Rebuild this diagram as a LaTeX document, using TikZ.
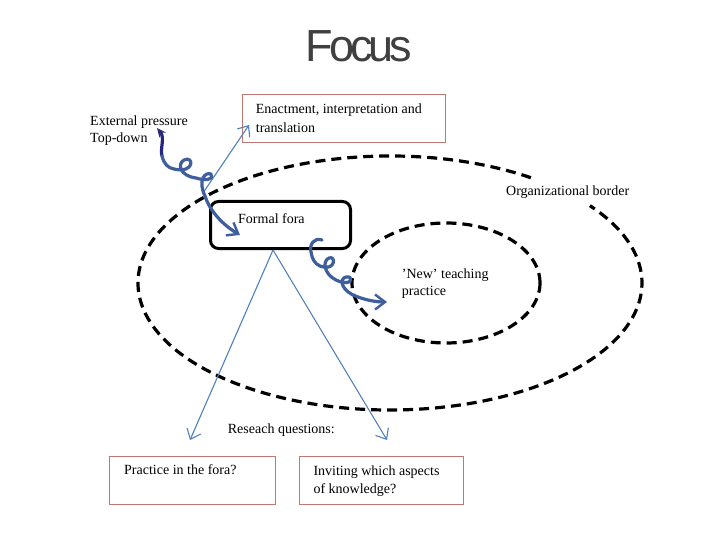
\documentclass[tikz,border=0pt]{standalone}
\usepackage{fontspec}
\setmainfont{Liberation Serif}
\newfontfamily\titlefont{Liberation Sans}
\usetikzlibrary{arrows.meta}
\definecolor{thinblue}{RGB}{79,129,189}
\definecolor{squig}{RGB}{62,94,158}
\definecolor{squigdark}{RGB}{38,40,128}
\definecolor{boxred}{RGB}{192,118,116}
\definecolor{titlegray}{RGB}{64,64,64}
\tikzset{
  txt/.style={font=\fontsize{14}{18}\selectfont, inner sep=0pt, anchor=base west},
  redbox/.style={draw=boxred, line width=1pt, minimum width=#1, minimum height=48pt, inner sep=0pt},
  forabox/.style={draw=black, line width=3pt, rounded corners=8pt, minimum width=140pt, minimum height=47pt, inner sep=0pt},
  border/.style={draw=black, line width=3.2pt, dash pattern=on 10pt off 6pt},
  thinarrow/.style={draw=thinblue, line width=1.1pt, -{Straight Barb[length=9pt,width=15pt,line width=1.1pt]}},
  squigline/.style={draw=squig, line width=3.2pt, line cap=round, line join=round},
  squigtip/.style={-{Straight Barb[length=10pt,width=15pt,line width=2.4pt]}},
}
\begin{document}
\begin{tikzpicture}[x=1pt,y=-1pt]
  \useasboundingbox[fill=white] (0,0) rectangle (720,540);

  % title
  \node[font=\titlefont\fontsize{45}{45}\selectfont, text=titlegray, inner sep=0pt, anchor=base] (title) at (359,62) {F\kern-4pt o\kern-4pt c\kern-4pt u\kern-4pt s};

  % ellipses
  \draw[border] ([shift={(390,283)}]56:252pt and 127pt) coordinate (orgstart)
        arc [start angle=56, end angle=397.5, x radius=252pt, y radius=127pt];
  \draw[border] (446,283) ellipse [x radius=94pt, y radius=60pt];

  % boxes
  \node[redbox=203pt] (enact) at (344,118.5) {};
  \node[forabox] (fora) at (280.5,225) {};
  \node[redbox=165.5pt] (pract) at (192.5,480.5) {};
  \node[redbox=164.3pt] (invit) at (381.7,480.5) {};

  % texts
  \node[txt] (ext1) at (90,126) {External pressure};
  \node[txt] (ext2) at (90,143) {Top-down};
  \node[txt] (en1) at (255.7,114) {Enactment, interpretation and};
  \node[txt] (en2) at (255.7,132.7) {translation};
  \node[txt] (foratxt) at (238,223) {Formal fora};
  \node[txt] (org) at (506,196) {Organizational border};
  \node[txt] (new1) at (401.7,278) {’New’ teaching};
  \node[txt] (new2) at (401.7,295) {practice};
  \node[txt] (rq) at (227.7,433) {Reseach questions:};
  \node[txt] (pr) at (124,474) {Practice in the fora?};
  \node[txt] (inv1) at (313.3,475) {Inviting which aspects};
  \node[txt] (inv2) at (313.3,493) {of knowledge?};

  % thin arrows
  \coordinate (fb) at ([xshift=-7.5pt]fora.south);
  \coordinate (q1tip) at (190,440);
  \coordinate (q2tip) at (387,440);
  \coordinate (enstart) at (203,193);
  \coordinate (entip) at (249,125);
  \draw[thinarrow] (fb) -- (q1tip);
  \draw[thinarrow] (fb) -- (q2tip);
  \draw[thinarrow] (enstart) -- (entip);

  % squiggle 1: external pressure -> formal fora
  \coordinate (s1top) at (157,128);
  \coordinate (s1mid) at (162,156);
  \coordinate (s1end) at (240,235);
  \draw[squigline, draw=squigdark, {Stealth[length=9pt,width=8pt]}-] (s1top) .. controls (165,138) and (160,148) .. (s1mid);
  \draw[squigline, squigtip] (s1mid) .. controls (164,164) and (168,168) .. (174,169)
     .. controls (195,174) and (194,155) .. (184,160)
     .. controls (177,164) and (180,176) .. (196,178)
     .. controls (216,184) and (214,171) .. (207,174)
     .. controls (200,177) and (201,188) .. (205,196)
     .. controls (208,206) and (218,222) .. (s1end);

  % squiggle 2: formal fora -> new teaching practice
  \coordinate (s2start) at (322,240);
  \coordinate (s2end) at (387,302);
  \draw[squigline, squigtip] (s2start) .. controls (314,237) and (309,245) .. (311,252)
     .. controls (312,259) and (315,264) .. (320,266)
     .. controls (336,272) and (336,255) .. (329,258)
     .. controls (322,261) and (324,274) .. (336,280)
     .. controls (353,288) and (354,275) .. (346,277)
     .. controls (338,279) and (342,292) .. (358,297)
     .. controls (366,300) and (376,302) .. (s2end);
\end{tikzpicture}
\end{document}
